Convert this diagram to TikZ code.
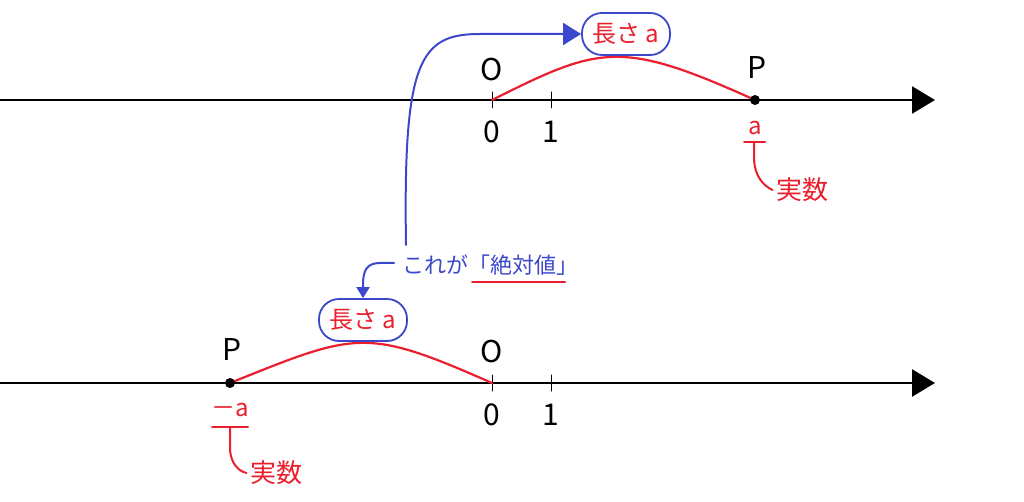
\documentclass[tikz,border=0pt]{standalone}
\usepackage{fontspec}
\setmainfont{Noto Sans CJK JP}
\usetikzlibrary{arrows.meta,positioning}
\definecolor{absblue}{RGB}{60,72,204}
\definecolor{absred}{RGB}{235,30,45}
\tikzset{
    axis/.style = {line width=2.5pt, -{Triangle[length=23pt,width=27pt]}},
    tick/.style = {line width=1pt},
    dist/.style = {absred, line width=2.2pt},
    bracket/.style = {absred, line width=2pt},
    pointer/.style = {absblue, line width=2pt},
    lenbox/.style = {draw=absblue, line width=1.8pt, rounded corners=20pt, minimum width=88pt, minimum height=42pt, text=absred, font=\fontsize{24}{24}\selectfont},
    ptlabel/.style = {font=\fontsize{30}{30}\selectfont},
    redlabel/.style = {text=absred, font=\fontsize{24}{24}\selectfont},
    reallabel/.style = {text=absred, font=\fontsize{26}{26}\selectfont},
    note/.style = {text=absblue, font=\fontsize{22}{22}\selectfont, inner sep=0pt},
}

\begin{document}
\begin{tikzpicture}[line cap=round,line join=round,x=1pt,y=-1pt]
    \useasboundingbox (0,0) rectangle (1024,502);

    % upper line: P = a
    \coordinate (S1) at (0,100);
    \coordinate (T1) at (935,100);
    \coordinate (O1) at (492,100);
    \coordinate (E1) at (551,100);
    \coordinate (P1) at (755,100);
    \draw [axis] (S1) -- (T1);
    \draw [tick] ([yshift=8pt]O1) -- ([yshift=-8pt]O1);
    \draw [tick] ([yshift=8pt]E1) -- ([yshift=-8pt]E1);
    \node [ptlabel] (labO1) at (492,70) {O};
    \node [ptlabel] (zero1) at (492,132) {0};
    \node [ptlabel] (one1) at (551,132) {1};
    \node [ptlabel] (labP1) at (757,68) {P};
    \draw [dist] (O1) .. controls (600,46) and (620,39) .. (P1);
    \fill (P1) circle (5pt);
    \node [lenbox] (len1) at (626,34) {長さ a};
    \node [redlabel] (a1) at (755,128) {a};
    \node [reallabel] (real1) at (802,190) {実数};
    \draw [bracket] (744,142) -- (765,142);
    \coordinate (r1) at (754,142);
    \draw [bracket] (r1) -- (754,160) .. controls (755,175) and (762,185) .. (real1.west);

    % lower line: P = -a
    \coordinate (S2) at (0,383);
    \coordinate (T2) at (935,383);
    \coordinate (O2) at (492,383);
    \coordinate (E2) at (551,383);
    \coordinate (P2) at (230,383);
    \draw [axis] (S2) -- (T2);
    \draw [tick] ([yshift=8pt]O2) -- ([yshift=-8pt]O2);
    \draw [tick] ([yshift=8pt]E2) -- ([yshift=-8pt]E2);
    \node [ptlabel] (labO2) at (492,352) {O};
    \node [ptlabel] (zero2) at (492,415) {0};
    \node [ptlabel] (one2) at (551,415) {1};
    \node [ptlabel] (labP2) at (232,350) {P};
    \draw [dist] (P2) .. controls (357,332) and (365,327) .. (O2);
    \fill (P2) circle (5pt);
    \node [lenbox] (len2) at (363,320) {長さ a};
    \node [redlabel] (a2) at (230,410) {－a};
    \node [reallabel] (real2) at (276,473) {実数};
    \draw [bracket] (212,427) -- (248,427);
    \coordinate (r2) at (230,427);
    \draw [bracket] (r2) -- (230,450) .. controls (231,463) and (238,471) .. (real2.west);

    % note in the middle
    \node [note] (absnote) at (490,265) {これが「絶対値」};
    \draw [bracket] (472,282) -- (565,282);
    \coordinate (n1) at (406,245);
    \coordinate (n2) at (394,263);
    \draw [pointer, -{Triangle[length=18pt,width=22pt]}] (n1) .. controls (403,60) and (420,34) .. (480,34) -- (len1.west);
    \draw [pointer, -{Triangle[length=11pt,width=13pt]}] (n2) -- (380,263) .. controls (367,263) and (363,270) .. (363,285) -- (len2.north);
\end{tikzpicture}
\end{document}
